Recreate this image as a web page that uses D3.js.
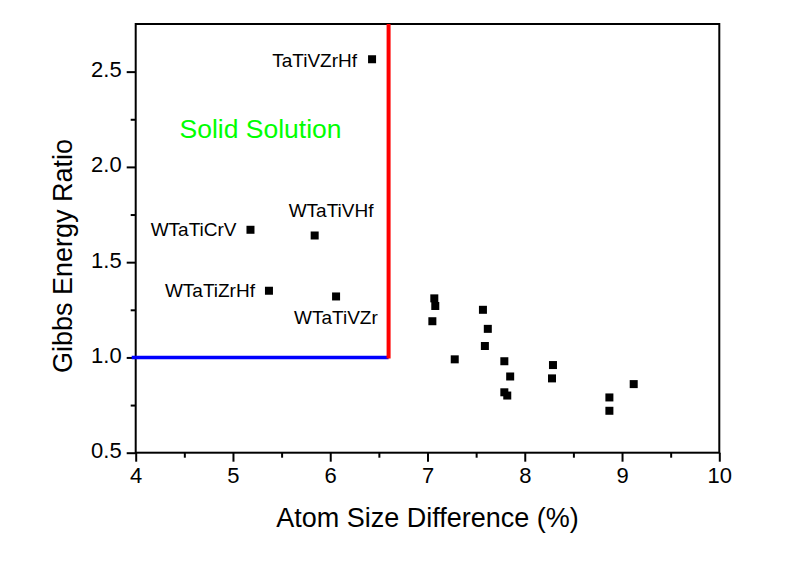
<!DOCTYPE html>
<html><head><meta charset="utf-8">
<script src="https://cdn.jsdelivr.net/npm/d3@7"></script>
<style>body{margin:0;background:#fff}svg{display:block}text{font-family:"Liberation Sans",Arial,sans-serif}</style>
</head><body>
<script>
// Data
const xTicks = [4,5,6,7,8,9,10];
const yTicks = [0.5,1.0,1.5,2.0,2.5];
const labeledNames = ["TaTiVZrHf","WTaTiCrV","WTaTiVHf","WTaTiZrHf","WTaTiVZr"];
const labeledX = [6.43,5.18,5.84,5.37,6.06];
const labeledY = [2.565,1.67,1.64,1.35,1.32];
const otherX = [7.07,7.08,7.05,7.28,7.57,7.62,7.59,7.79,7.85,7.79,7.82,8.29,8.28,8.87,8.87,9.12];
const otherY = [1.31,1.27,1.19,0.99,1.25,1.15,1.06,0.98,0.90,0.817,0.80,0.96,0.89,0.79,0.72,0.86];
const boundaryX = 6.6, boundaryY = 1.0;

const W=807,H=570;
const m={l:135.7,r:719.3,t:24,b:452.7};
const svg=d3.select("body").append("svg").attr("width",W).attr("height",H);
const x=d3.scaleLinear().domain([4,10]).range([m.l,m.r]);
const y=d3.scaleLinear().domain([0.5,2.75]).range([m.b,m.t]);

// frame
svg.append("rect").attr("x",m.l).attr("y",m.t).attr("width",m.r-m.l).attr("height",m.b-m.t)
  .attr("fill","none").attr("stroke","#000").attr("stroke-width",2);

// axes
const xMinor=d3.range(4.5,10,1);
const yMinor=d3.range(0.75,2.75,0.5);
const gx=svg.append("g").attr("transform",`translate(0,${m.b})`);
gx.call(d3.axisBottom(x).tickValues(xTicks).tickFormat(d3.format("d")).tickSize(9).tickPadding(6));
gx.append("g").call(d3.axisBottom(x).tickValues(xMinor).tickFormat("").tickSize(5));
const gy=svg.append("g").attr("transform",`translate(${m.l},0)`);
gy.call(d3.axisLeft(y).tickValues(yTicks).tickFormat(d3.format(".1f")).tickSize(9).tickPadding(5));
gy.append("g").call(d3.axisLeft(y).tickValues(yMinor).tickFormat("").tickSize(5));
svg.selectAll(".domain").remove();
svg.selectAll(".tick line").attr("stroke","#000").attr("stroke-width",2);
svg.selectAll(".tick text").attr("fill","#000").style("font-size","22px").style("font-family",'"Liberation Sans",Arial,sans-serif');
gy.selectAll(".tick text").attr("dy","0.22em");

// boundary lines
svg.append("line").attr("x1",x(4)-4).attr("x2",x(boundaryX)).attr("y1",y(boundaryY)).attr("y2",y(boundaryY))
  .attr("stroke","#0000ff").attr("stroke-width",3.5);
svg.append("line").attr("x1",x(boundaryX)).attr("x2",x(boundaryX)).attr("y1",m.t).attr("y2",y(boundaryY)+1)
  .attr("stroke","#ff0000").attr("stroke-width",4);

// points
const s=8;
const all=otherX.map((v,i)=>({x:v,y:otherY[i]})).concat(labeledX.map((v,i)=>({x:v,y:labeledY[i]})));
svg.append("g").selectAll("rect").data(all).join("rect")
  .attr("x",d=>x(d.x)-s/2).attr("y",d=>y(d.y)-s/2).attr("width",s).attr("height",s).attr("fill","#000");

// point labels (anchor offsets relative to point)
const offs=[[-15,7.5,"end"],[-14,6,"end"],[-26,-18.5,"start"],[-14,6.5,"end"],[-42,27.5,"start"]];
svg.append("g").selectAll("text").data(labeledNames).join("text")
  .attr("x",(d,i)=>x(labeledX[i])+offs[i][0]).attr("y",(d,i)=>y(labeledY[i])+offs[i][1])
  .attr("text-anchor",(d,i)=>offs[i][2]).style("font-size","19px").attr("fill","#000").text(d=>d);

// region label
svg.append("text").attr("x",179.5).attr("y",137.5).style("font-size","26.5px").attr("fill","#00ff00").text("Solid Solution");

// axis titles
svg.append("text").attr("x",(m.l+m.r)/2).attr("y",527).attr("text-anchor","middle").style("font-size","27px").attr("fill","#000")
  .text("Atom Size Difference (%)");
svg.append("text").attr("transform","translate(71.5,256) rotate(-90)").attr("text-anchor","middle").style("font-size","27px").attr("fill","#000")
  .text("Gibbs Energy Ratio");
</script>
</body></html>
